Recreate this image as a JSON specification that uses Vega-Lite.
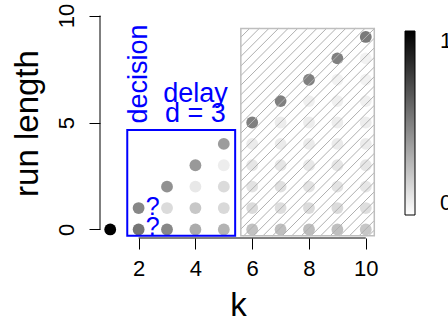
{
  "$schema": "https://vega.github.io/schema/vega-lite/v6.json",
  "width": 276,
  "height": 231,
  "autosize": {"type": "none"},
  "padding": {"left": 100, "top": 7, "right": 72, "bottom": 85},
  "config": {"font": "Liberation Sans", "view": {"stroke": null}},
  "datasets": {
    "points": [
      {"k": 1, "r": 0, "v": 1.0},
      {"k": 2, "r": 0, "v": 0.54}, {"k": 2, "r": 1, "v": 0.47},
      {"k": 3, "r": 0, "v": 0.47}, {"k": 3, "r": 1, "v": 0.14}, {"k": 3, "r": 2, "v": 0.43},
      {"k": 4, "r": 0, "v": 0.33}, {"k": 4, "r": 1, "v": 0.22}, {"k": 4, "r": 2, "v": 0.09}, {"k": 4, "r": 3, "v": 0.40},
      {"k": 5, "r": 0, "v": 0.30}, {"k": 5, "r": 1, "v": 0.15}, {"k": 5, "r": 2, "v": 0.14}, {"k": 5, "r": 3, "v": 0.07}, {"k": 5, "r": 4, "v": 0.39},
      {"k": 6, "r": 0, "v": 0.24}, {"k": 6, "r": 1, "v": 0.14}, {"k": 6, "r": 2, "v": 0.11}, {"k": 6, "r": 3, "v": 0.10}, {"k": 6, "r": 4, "v": 0.08}, {"k": 6, "r": 5, "v": 0.50},
      {"k": 7, "r": 0, "v": 0.25}, {"k": 7, "r": 1, "v": 0.13}, {"k": 7, "r": 2, "v": 0.12}, {"k": 7, "r": 3, "v": 0.10}, {"k": 7, "r": 4, "v": 0.08}, {"k": 7, "r": 5, "v": 0.07}, {"k": 7, "r": 6, "v": 0.50},
      {"k": 8, "r": 0, "v": 0.26}, {"k": 8, "r": 1, "v": 0.14}, {"k": 8, "r": 2, "v": 0.11}, {"k": 8, "r": 3, "v": 0.09}, {"k": 8, "r": 4, "v": 0.08}, {"k": 8, "r": 5, "v": 0.07}, {"k": 8, "r": 6, "v": 0.06}, {"k": 8, "r": 7, "v": 0.50},
      {"k": 9, "r": 0, "v": 0.25}, {"k": 9, "r": 1, "v": 0.14}, {"k": 9, "r": 2, "v": 0.11}, {"k": 9, "r": 3, "v": 0.10}, {"k": 9, "r": 4, "v": 0.08}, {"k": 9, "r": 5, "v": 0.07}, {"k": 9, "r": 6, "v": 0.06}, {"k": 9, "r": 7, "v": 0.05}, {"k": 9, "r": 8, "v": 0.50},
      {"k": 10, "r": 0, "v": 0.22}, {"k": 10, "r": 1, "v": 0.13}, {"k": 10, "r": 2, "v": 0.10}, {"k": 10, "r": 3, "v": 0.10}, {"k": 10, "r": 4, "v": 0.08}, {"k": 10, "r": 5, "v": 0.07}, {"k": 10, "r": 6, "v": 0.06}, {"k": 10, "r": 7, "v": 0.05}, {"k": 10, "r": 8, "v": 0.05}, {"k": 10, "r": 9, "v": 0.52}
    ],
    "hatch": [
      {"k": 5.6, "r": 8.987, "k2": 5.912, "r2": 9.4},
      {"k": 5.6, "r": 8.538, "k2": 6.250, "r2": 9.4},
      {"k": 5.6, "r": 8.089, "k2": 6.589, "r2": 9.4},
      {"k": 5.6, "r": 7.641, "k2": 6.927, "r2": 9.4},
      {"k": 5.6, "r": 7.192, "k2": 7.265, "r2": 9.4},
      {"k": 5.6, "r": 6.744, "k2": 7.604, "r2": 9.4},
      {"k": 5.6, "r": 6.295, "k2": 7.942, "r2": 9.4},
      {"k": 5.6, "r": 5.847, "k2": 8.280, "r2": 9.4},
      {"k": 5.6, "r": 5.398, "k2": 8.618, "r2": 9.4},
      {"k": 5.6, "r": 4.950, "k2": 8.957, "r2": 9.4},
      {"k": 5.6, "r": 4.501, "k2": 9.295, "r2": 9.4},
      {"k": 5.6, "r": 4.053, "k2": 9.633, "r2": 9.4},
      {"k": 5.6, "r": 3.604, "k2": 9.972, "r2": 9.4},
      {"k": 5.6, "r": 3.155, "k2": 10.3, "r2": 9.387},
      {"k": 5.6, "r": 2.707, "k2": 10.3, "r2": 8.939},
      {"k": 5.6, "r": 2.258, "k2": 10.3, "r2": 8.490},
      {"k": 5.6, "r": 1.810, "k2": 10.3, "r2": 8.041},
      {"k": 5.6, "r": 1.361, "k2": 10.3, "r2": 7.593},
      {"k": 5.6, "r": 0.913, "k2": 10.3, "r2": 7.144},
      {"k": 5.6, "r": 0.464, "k2": 10.3, "r2": 6.696},
      {"k": 5.6, "r": 0.016, "k2": 10.3, "r2": 6.247},
      {"k": 5.700, "r": -0.3, "k2": 10.3, "r2": 5.799},
      {"k": 6.039, "r": -0.3, "k2": 10.3, "r2": 5.350},
      {"k": 6.377, "r": -0.3, "k2": 10.3, "r2": 4.902},
      {"k": 6.715, "r": -0.3, "k2": 10.3, "r2": 4.453},
      {"k": 7.054, "r": -0.3, "k2": 10.3, "r2": 4.005},
      {"k": 7.392, "r": -0.3, "k2": 10.3, "r2": 3.556},
      {"k": 7.730, "r": -0.3, "k2": 10.3, "r2": 3.107},
      {"k": 8.068, "r": -0.3, "k2": 10.3, "r2": 2.659},
      {"k": 8.407, "r": -0.3, "k2": 10.3, "r2": 2.210},
      {"k": 8.745, "r": -0.3, "k2": 10.3, "r2": 1.762},
      {"k": 9.083, "r": -0.3, "k2": 10.3, "r2": 1.313},
      {"k": 9.422, "r": -0.3, "k2": 10.3, "r2": 0.865},
      {"k": 9.760, "r": -0.3, "k2": 10.3, "r2": 0.416},
      {"k": 10.098, "r": -0.3, "k2": 10.3, "r2": -0.032}
    ],
    "hatchbox": [{"k": 5.6, "k2": 10.3, "r": -0.3, "r2": 9.4}],
    "decisionbox": [{"k": 1.6, "k2": 5.4, "r": -0.3, "r2": 4.65}],
    "axislines": [
      {"k": 2, "k2": 10, "r": -0.4, "r2": -0.4},
      {"k": 0.64, "k2": 0.64, "r": 0, "r2": 10}
    ],
    "vlabel": [{"k": 2.3, "r": 7.27, "label": "decision"}],
    "hlabels": [
      {"k": 4.0, "r": 5.95, "label": "delay"},
      {"k": 4.0, "r": 5.03, "label": "d = 3"}
    ],
    "qmarks": [
      {"k": 2.5, "r": 0.68, "label": "?"},
      {"k": 2.5, "r": -0.25, "label": "?"}
    ]
  },
  "layer": [
    {
      "data": {"name": "points"},
      "mark": {"type": "circle", "size": 140, "opacity": 1},
      "encoding": {
        "x": {
          "field": "k", "type": "quantitative", "title": "k",
          "scale": {"domain": [0.64, 10.36], "nice": false, "zero": false},
          "axis": {
            "values": [2, 4, 6, 8, 10], "grid": false, "domain": false,
            "tickSize": 11, "tickColor": "black", "tickWidth": 1,
            "labelFontSize": 22, "labelColor": "black", "labelPadding": 9, "labelFlush": false,
            "titleFontSize": 33, "titleFontWeight": "normal", "titleColor": "black",
            "titleX": 138, "titleY": 77, "titleAlign": "center", "titleBaseline": "alphabetic"
          }
        },
        "y": {
          "field": "r", "type": "quantitative", "title": "run length",
          "scale": {"domain": [-0.4, 10.4], "nice": false, "zero": false},
          "axis": {
            "values": [0, 5, 10], "grid": false, "domain": false,
            "tickSize": 11, "tickColor": "black", "tickWidth": 1,
            "labelFontSize": 22, "labelColor": "black", "labelAngle": 270, "labelAlign": "center",
            "labelBaseline": "alphabetic", "labelPadding": 16, "labelFlush": false,
            "titleFontSize": 33, "titleFontWeight": "normal", "titleColor": "black",
            "titleAngle": 270, "titleX": -63, "titleY": 116, "titleAlign": "center", "titleBaseline": "alphabetic"
          }
        },
        "color": {
          "field": "v", "type": "quantitative",
          "scale": {"domain": [0, 1], "range": ["#ffffff", "#000000"], "interpolate": "rgb"},
          "legend": {
            "orient": "none", "legendX": 305, "legendY": 24, "direction": "vertical",
            "gradientLength": 184, "gradientThickness": 10,
            "gradientStrokeColor": "black", "gradientStrokeWidth": 1,
            "values": [0, 1], "labelFontSize": 22, "labelOffset": 25, "labelColor": "black",
            "labelOverlap": false,
            "encode": {"labels": {"update": {"baseline": {"value": "middle"}}}},
            "title": null, "padding": 0
          }
        }
      }
    },
    {
      "data": {"name": "hatch"},
      "mark": {"type": "rule", "stroke": "#b0b0b0", "strokeWidth": 1},
      "encoding": {
        "x": {"field": "k", "type": "quantitative", "title": "k"},
        "x2": {"field": "k2", "title": "k"},
        "y": {"field": "r", "type": "quantitative", "title": "run length"},
        "y2": {"field": "r2", "title": "run length"}
      }
    },
    {
      "data": {"name": "hatchbox"},
      "mark": {"type": "rect", "fill": "white", "fillOpacity": 0, "stroke": "#bebebe", "strokeWidth": 1.5},
      "encoding": {
        "x": {"field": "k", "type": "quantitative", "title": "k"},
        "x2": {"field": "k2", "title": "k"},
        "y": {"field": "r", "type": "quantitative", "title": "run length"},
        "y2": {"field": "r2", "title": "run length"}
      }
    },
    {
      "data": {"name": "decisionbox"},
      "mark": {"type": "rect", "fill": "white", "fillOpacity": 0, "stroke": "#0000ff", "strokeWidth": 2},
      "encoding": {
        "x": {"field": "k", "type": "quantitative", "title": "k"},
        "x2": {"field": "k2", "title": "k"},
        "y": {"field": "r", "type": "quantitative", "title": "run length"},
        "y2": {"field": "r2", "title": "run length"}
      }
    },
    {
      "data": {"name": "axislines"},
      "mark": {"type": "rule", "stroke": "black", "strokeWidth": 1},
      "encoding": {
        "x": {"field": "k", "type": "quantitative", "title": "k"},
        "x2": {"field": "k2", "title": "k"},
        "y": {"field": "r", "type": "quantitative", "title": "run length"},
        "y2": {"field": "r2", "title": "run length"}
      }
    },
    {
      "data": {"name": "vlabel"},
      "mark": {"type": "text", "angle": 270, "fontSize": 27, "color": "#0000ff", "align": "center", "baseline": "alphabetic"},
      "encoding": {
        "x": {"field": "k", "type": "quantitative", "title": "k"},
        "y": {"field": "r", "type": "quantitative", "title": "run length"},
        "text": {"field": "label"}
      }
    },
    {
      "data": {"name": "hlabels"},
      "mark": {"type": "text", "fontSize": 27, "color": "#0000ff", "align": "center", "baseline": "alphabetic"},
      "encoding": {
        "x": {"field": "k", "type": "quantitative", "title": "k"},
        "y": {"field": "r", "type": "quantitative", "title": "run length"},
        "text": {"field": "label"}
      }
    },
    {
      "data": {"name": "qmarks"},
      "mark": {"type": "text", "fontSize": 25, "color": "#0000ff", "align": "center", "baseline": "alphabetic"},
      "encoding": {
        "x": {"field": "k", "type": "quantitative", "title": "k"},
        "y": {"field": "r", "type": "quantitative", "title": "run length"},
        "text": {"field": "label"}
      }
    }
  ]
}
